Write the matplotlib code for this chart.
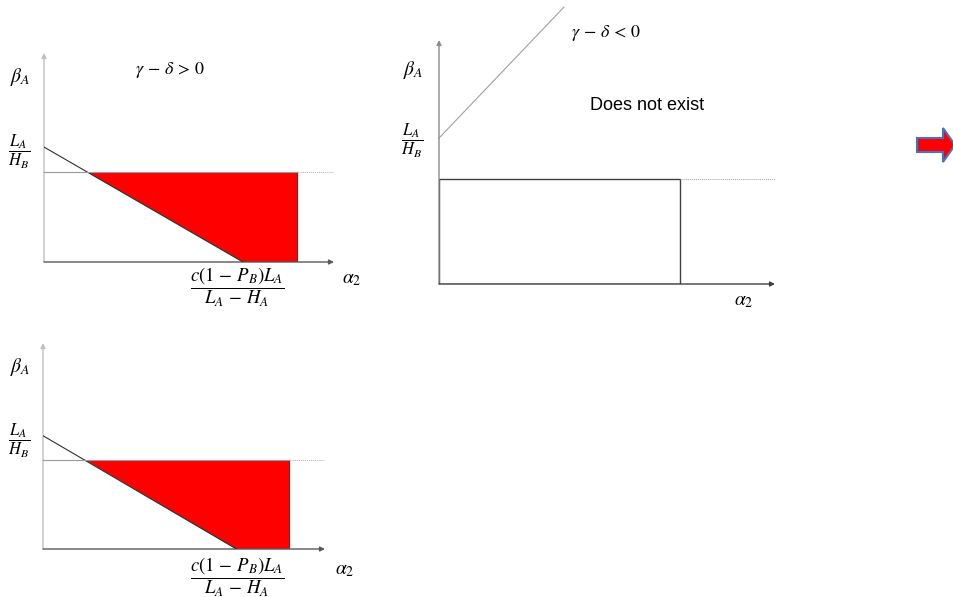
import matplotlib.pyplot as plt
import matplotlib.patches as mpatches

plt.rcParams['mathtext.fontset'] = 'stix'
plt.rcParams['font.family'] = ['Liberation Sans', 'DejaVu Sans']

# geometry of the two "gamma - delta > 0" panels (axis units 0..1)
diag_y0 = 0.55        # L_A / H_B intercept
diag_x0 = 0.686       # c(1-P_B)L_A / (L_A-H_A)
thresh_y = 0.431      # horizontal limit
right_x = 0.872       # right edge of red region
line_end = 1.0

# geometry of the "gamma - delta < 0" panel
rect_x = [0, 0.717, 0.717, 0, 0]
rect_y = [0, 0, 0.43, 0.43, 0]
dot_end = 1.006
up_x = [0, 0.372]
up_y = [0.598, 1.135]

W, H = 954, 597
fig = plt.figure(figsize=(W / 100, H / 100), dpi=100)

frac_lh = r'$\dfrac{L_A}{H_B}$'
frac_c = r'$\dfrac{c(1\,-\,P_B)L_A}{L_A\,-\,H_A}$'


def px_axes(x0, y0, x1, y1):
    # origin (x0,y0) and top-right (x1,y1) in pixels, y downwards
    ax = fig.add_axes([x0 / W, 1 - y0 / H, (x1 - x0) / W, (y0 - y1) / H])
    ax.set_xlim(0, 1)
    ax.set_ylim(0, 1)
    ax.axis('off')
    return ax


def label(x, y, s, size=13, **kw):
    fig.text(x / W, 1 - y / H, s, fontsize=size, ha='center', va='center', **kw)


def axes_arrows(ax, ycol, xcol):
    ax.annotate('', xy=(0, 1), xytext=(0, 0),
                arrowprops=dict(arrowstyle='-|>', color=ycol, lw=1.0,
                                mutation_scale=7, shrinkA=0, shrinkB=0))
    ax.annotate('', xy=(1, 0), xytext=(0, 0),
                arrowprops=dict(arrowstyle='-|>', color=xcol, lw=1.0,
                                mutation_scale=7, shrinkA=0, shrinkB=0))


def red_panel(ax):
    xi = diag_x0 * (1 - thresh_y / diag_y0)
    ax.fill([xi, right_x, right_x, diag_x0], [thresh_y, thresh_y, 0, 0],
            color='#ff0000', lw=0, zorder=2)
    ax.plot([right_x, right_x], [0, thresh_y], color='#404040', lw=0.9, zorder=3)
    axes_arrows(ax, '#c0c0c0', '#595959')
    ax.plot([0, diag_x0], [diag_y0, 0], color='#303030', lw=0.8, zorder=3)
    ax.plot([0, right_x], [thresh_y, thresh_y], color='#9a9a9a', lw=0.8, zorder=3)
    ax.plot([right_x, line_end], [thresh_y, thresh_y], color='#b0b0b0', lw=0.7,
            ls=(0, (1, 1)), zorder=3)


# top-left panel
ax1 = px_axes(44, 262, 334, 53)
red_panel(ax1)
label(170, 70, r'$\gamma\,-\,\delta\,>\,0$')
label(20, 77, r'$\beta_A$', 14)
label(19, 152, frac_lh, 12)
label(237, 287, frac_c, 13.5)
label(352, 279, r'$\alpha_2$', 14)

# bottom-left panel
ax3 = px_axes(43, 549, 325, 343)
red_panel(ax3)
label(20, 367, r'$\beta_A$', 14)
label(19, 441, frac_lh, 12)
label(237, 577, frac_c, 13.5)
label(345, 570, r'$\alpha_2$', 14)

# top-right panel
ax2 = px_axes(439, 284, 775, 40)
axes_arrows(ax2, '#8c8c8c', '#404040')
ax2.plot(rect_x, rect_y, color='#404040', lw=1.0)
ax2.plot([rect_x[1], dot_end], [rect_y[2], rect_y[2]], color='#a0a0a0', lw=0.7,
         ls=(0, (1, 1)))
ax2.plot(up_x, up_y, color='#a0a0a0', lw=0.8, clip_on=False)
label(413, 70, r'$\beta_A$', 14)
label(412, 141, frac_lh, 12)
label(606, 33, r'$\gamma\,-\,\delta\,<\,0$')
label(647, 105, 'Does not exist', 13)
label(744, 302, r'$\alpha_2$', 14)

# block arrow at the right edge
axa = fig.add_axes([910 / W, 1 - 170 / H, 44 / W, 50 / H])
axa.set_xlim(0, 44)
axa.set_ylim(0, 50)
axa.axis('off')
axa.add_patch(mpatches.FancyArrow(7, 25, 38, 0, width=14, head_width=34,
                                  head_length=12, length_includes_head=True,
                                  facecolor='#ff0000', edgecolor='#4472c4',
                                  lw=1.5, clip_on=False))

fig.savefig('out.png', dpi=100)
